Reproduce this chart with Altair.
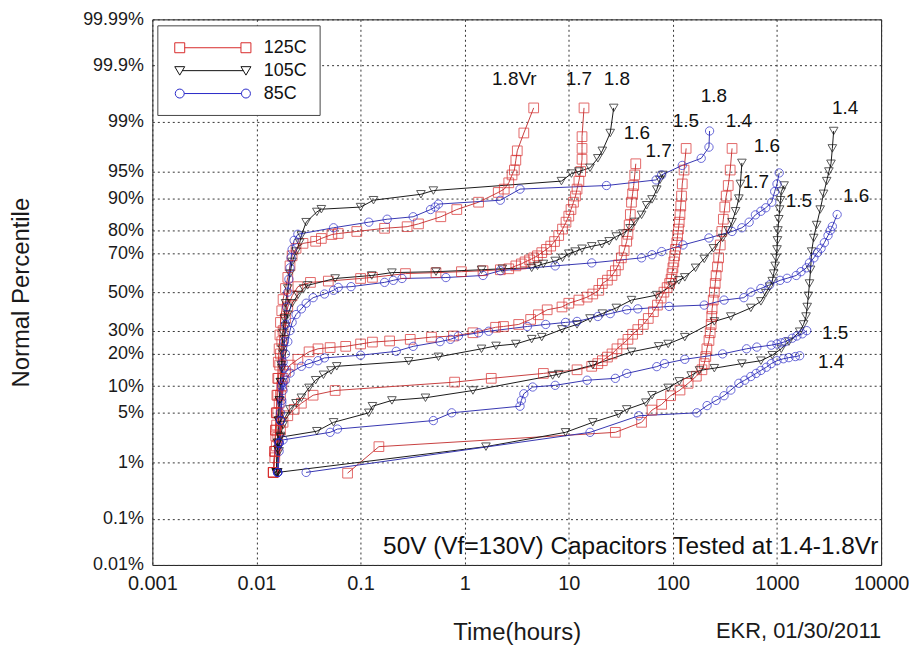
import altair as alt
import pandas as pd
from statistics import NormalDist

# ---------------- data (time in hours, percentile in %) ----------------
# 125C (red squares)
R18_T = [0.0145, 0.015, 0.0152, 0.0155, 0.0157, 0.016, 0.0162, 0.0165, 0.0168, 0.017, 0.0175, 0.018, 0.019, 0.02, 0.021, 0.022, 0.024, 0.028, 0.037, 0.042, 0.053, 0.061, 0.092, 0.17, 0.28, 0.36, 0.59, 0.84, 1.36, 2.1, 2.4, 2.65, 2.85, 3.0, 3.1, 3.2, 3.7, 4.6]
R18_P = [0.7, 1.5, 3, 5, 8, 12, 17, 22, 28, 34, 40, 46, 52, 58, 64, 69, 72.5, 74.7, 75.6, 76.8, 78.4, 78.8, 79.6, 80.8, 81.4, 82.4, 84.8, 87, 89, 91.3, 92, 93.2, 94.5, 95.2, 96.4, 97.3, 98.5, 99.4]
R17_T = [0.0145, 0.015, 0.0153, 0.0156, 0.016, 0.0163, 0.0167, 0.017, 0.0175, 0.018, 0.019, 0.02, 0.022, 0.025, 0.033, 0.049, 0.1, 0.13, 0.27, 0.53, 0.93, 1.5, 2.2, 2.65, 3.1, 3.5, 3.8, 4.2, 4.6, 5.0, 5.5, 6.1, 6.7, 7.3, 8.0, 8.7, 9.4, 10.0, 10.5, 11.1, 11.6, 12.0, 12.5, 13.0, 13.4, 13.4, 13.4, 14.0]
R17_P = [0.7, 1.5, 3, 5, 8, 12, 16, 20, 25, 30, 36, 42, 48, 53, 55.3, 56, 57.4, 58, 60, 60.5, 61, 61.5, 62, 62.5, 64, 65, 66, 67, 68, 69, 70.5, 72, 73.5, 75.5, 78, 80.5, 83, 85, 87, 89, 90.5, 92, 93.5, 95, 96.5, 97.5, 98.3, 99.4]
R16_T = [0.0145, 0.015, 0.0153, 0.0156, 0.016, 0.0165, 0.017, 0.0175, 0.018, 0.019, 0.021, 0.025, 0.032, 0.039, 0.051, 0.072, 0.1, 0.13, 0.19, 0.3, 0.48, 0.78, 1.2, 1.98, 2.36, 3.3, 4.3, 5.1, 6.2, 8.6, 10, 12.5, 15, 17, 19.4, 21, 23.5, 26, 28, 30, 32, 34, 36, 37, 38, 39, 40, 41, 42, 43, 44]
R16_P = [0.7, 1.5, 2.5, 3.5, 5, 6.5, 8, 10, 12, 14, 16, 18, 20.8, 22, 22.5, 23, 24, 24.8, 25.3, 26, 27, 27.5, 29, 31.6, 32, 33, 35.5, 37.9, 40.5, 42, 44, 45.7, 47.3, 49, 51, 54.7, 56.5, 59, 61.5, 64.5, 68, 71.5, 75.6, 78.5, 82, 85.5, 89, 91, 92.7, 94.5, 96]
R15_T = [0.0145, 0.015, 0.0155, 0.016, 0.017, 0.018, 0.02, 0.023, 0.027, 0.035, 0.057, 0.8, 1.8, 5.7, 12, 16.6, 19, 21, 23.5, 26, 29, 33, 37, 41, 46, 52, 58, 65, 71, 77, 82, 88, 93, 96, 98, 100, 102, 104, 106, 109, 111, 113, 115, 117, 119, 121, 123, 128, 134]
R15_P = [0.7, 1.2, 1.8, 2.4, 3, 3.8, 4.6, 5.5, 6.5, 8, 9, 11, 12, 13.4, 14.5, 15.6, 16.5, 17.5, 18.8, 20, 22, 24, 26, 28.3, 30.5, 33, 36, 39.5, 43, 46.8, 50, 52.5, 54.7, 57, 60, 63, 66, 69, 72, 75, 78, 80.5, 83, 85.5, 88, 90.5, 93, 95.2, 97.5]
R14_T = [0.075, 0.15, 28, 50, 63, 78, 95, 117, 140, 168, 190, 200, 207, 212, 222, 228, 233, 236, 238, 244, 250, 255, 260, 268, 275, 285, 295, 305, 315, 325, 340, 355, 370]
R14_P = [0.68, 1.76, 2.8, 3.8, 5.4, 6.3, 7.9, 9.1, 10.7, 12.6, 14.5, 16.5, 19, 22, 25.5, 29, 33, 37, 41, 45.7, 50, 54.7, 59, 63.5, 68, 74, 79.6, 84, 87.7, 90.5, 92.7, 95.2, 97.5]

# 105C (black triangles)
K18_T = [0.0155, 0.016, 0.0163, 0.0166, 0.017, 0.0173, 0.0176, 0.018, 0.0185, 0.019, 0.02, 0.021, 0.022, 0.024, 0.026, 0.027, 0.03, 0.038, 0.042, 0.1, 0.133, 0.38, 0.5, 8.5, 10.6, 12.5, 16, 19, 21, 25, 27]
K18_P = [0.7, 2, 4, 7, 11, 16, 22, 29, 36, 44, 52, 60, 66, 71, 75, 78, 83, 86.3, 87.1, 87.7, 89.5, 90.9, 91.7, 93.5, 94.7, 95, 95.5, 96.6, 97.3, 98.5, 99.4]
K17_T = [0.0155, 0.016, 0.0163, 0.0166, 0.017, 0.0175, 0.018, 0.0185, 0.019, 0.02, 0.022, 0.025, 0.0284, 0.031, 0.057, 0.128, 0.2, 0.53, 1.45, 2.3, 4.4, 5.0, 5.7, 7.4, 8.7, 10, 11.5, 13.4, 16.6, 20.8, 24.4, 28.6, 33, 38.8, 43, 50, 56, 63, 70, 75, 80]
K17_P = [0.7, 2, 4, 7, 11, 15, 20, 26, 32, 38, 44, 48.5, 52, 53.7, 57.4, 59, 60.5, 61, 62, 62.5, 63, 64, 65, 66.5, 68, 70, 71, 72.3, 73.4, 74.3, 75.6, 77.6, 78.8, 80.8, 83.1, 85.4, 88.2, 89.7, 91.9, 93.7, 94.5]
K16_T = [0.016, 0.0165, 0.017, 0.018, 0.019, 0.021, 0.024, 0.027, 0.032, 0.037, 0.044, 0.052, 0.059, 0.29, 0.56, 1.45, 2.0, 3.1, 4.4, 5.5, 8.6, 12, 16, 21, 28.6, 40, 70, 98, 114, 130, 165, 200, 245, 300, 340, 370, 400, 430, 445, 460]
K16_P = [0.7, 1.5, 2.5, 3.5, 4.5, 5.5, 6.5, 7.5, 9.6, 11.5, 13, 14.3, 15.6, 17.3, 18.9, 22, 23.2, 24, 26.1, 27, 30.6, 33, 36, 38.5, 41.5, 45.7, 48.4, 53.7, 56.4, 58, 63, 67.5, 72.5, 77, 80, 83, 86.5, 89.9, 93, 96.1]
K15_T = [0.0155, 0.016, 0.017, 0.038, 0.055, 0.12, 0.13, 0.2, 0.42, 1.2, 7, 8, 17, 40, 73, 90, 130, 250, 360, 560, 700, 780, 850, 900, 930, 960, 980, 1000, 1010, 1020, 1040, 1060, 1080, 1100, 1170]
K15_P = [0.7, 1.6, 2.4, 2.9, 3.8, 5, 6, 7, 7.5, 9, 12.8, 13.2, 16, 20.8, 23, 24, 27, 34.5, 37, 41.5, 45, 49.5, 53, 56, 60, 64, 68, 72, 76, 80, 84, 87, 89.5, 91.5, 92.7]
K14_T = [0.016, 1.6, 9.3, 17, 30, 36, 55, 63, 90, 115, 150, 180, 250, 460, 700, 900, 1100, 1300, 1650, 1800, 1900, 1950, 2000, 2050, 2100, 2150, 2250, 2400, 2600, 2800, 3000, 3150, 3300, 3400, 3500]
K14_P = [0.7, 1.76, 2.8, 3.8, 4.8, 5.5, 6.6, 8, 9.6, 11.2, 12.8, 14.3, 15, 16.5, 17.5, 19.5, 22, 25, 29.5, 33, 37, 42, 48, 54.7, 62, 71, 77, 82, 87, 91, 93.5, 95, 96, 97.5, 98.6]

# 85C (blue circles)
B18_T = [0.016, 0.0165, 0.017, 0.0175, 0.018, 0.0185, 0.019, 0.0195, 0.02, 0.0205, 0.021, 0.0215, 0.022, 0.023, 0.025, 0.055, 0.12, 0.18, 0.32, 0.47, 0.52, 0.56, 2.2, 3.4, 23, 69, 78, 123, 187, 222, 225]
B18_P = [0.7, 2, 5, 10, 17, 25, 33, 42, 50, 57, 63, 68, 72, 76, 78.5, 81, 83, 84, 84.8, 87, 87.7, 88.5, 89.5, 92, 92.7, 93.7, 94.5, 95.8, 96.6, 97.6, 98.6]
B17_T = [0.016, 0.0165, 0.017, 0.0175, 0.018, 0.0185, 0.019, 0.02, 0.021, 0.022, 0.024, 0.027, 0.03, 0.035, 0.045, 0.055, 0.061, 0.081, 0.17, 0.206, 0.25, 0.66, 1.5, 2.2, 7.4, 16.6, 50, 63, 78, 125, 222, 370, 460, 540, 620, 700, 780, 890, 950, 1000, 1050]
B17_P = [0.7, 2, 4, 7, 11, 15, 20, 25, 30, 34, 38, 41, 44, 47, 49, 51, 52.6, 53, 55.3, 56.4, 57.4, 57.9, 59, 61.5, 64, 65.5, 68, 69.5, 71, 74, 77, 79.6, 81, 83, 85.4, 86.5, 87.5, 89, 91.5, 93, 94.8]
B16_T = [0.016, 0.0165, 0.017, 0.0175, 0.018, 0.019, 0.021, 0.027, 0.032, 0.039, 0.045, 0.1, 0.22, 0.32, 0.58, 0.73, 0.87, 1.36, 1.7, 4, 6, 9.3, 12, 19, 25, 36, 46, 92, 200, 310, 480, 560, 700, 850, 1070, 1250, 1530, 1700, 1920, 2050, 2260, 2450, 2650, 2850, 3090, 3250, 3400, 3780]
B16_P = [0.7, 2, 4, 6.5, 9, 11.5, 13.5, 15.6, 16.5, 17.5, 18.5, 19.5, 21, 23, 25, 26, 27.5, 29, 29.7, 32, 33, 34, 34.5, 37, 38.5, 40.5, 41, 42.3, 43, 45.7, 47, 50, 52, 54, 56.4, 57.5, 59, 61, 63, 65.5, 68, 70.5, 72.5, 75, 78, 80, 81.5, 85.5]
B15_T = [0.016, 0.0165, 0.018, 0.051, 0.06, 0.5, 0.75, 3.4, 3.5, 3.7, 4.5, 7.4, 15, 28, 36, 70, 83, 130, 300, 510, 640, 880, 1000, 1100, 1200, 1400, 1550, 1750, 1930]
B15_P = [0.7, 1.5, 2.2, 2.8, 3.1, 4, 5, 6, 7, 8.3, 9.8, 10.2, 11.5, 12, 13.4, 15.5, 16.5, 18, 20, 22, 22.7, 23.5, 24, 24.5, 25, 26.5, 27.5, 28.5, 30]
B14_T = [0.03, 16, 47, 170, 213, 260, 310, 360, 430, 490, 560, 630, 700, 790, 880, 1000, 1150, 1300, 1500, 1650]
B14_P = [0.7, 2.8, 4.6, 5, 6.1, 7, 7.9, 9.1, 10.7, 11.5, 12.5, 13.4, 14.3, 15.3, 16.5, 17.5, 18.2, 18.6, 19, 19.3]

# curve labels
LBL_TEXT = ["1.8Vr", "1.7", "1.8", "1.6", "1.7", "1.5", "1.8", "1.4", "1.6", "1.7", "1.5", "1.4", "1.6", "1.5", "1.4"]
LBL_T = [3.0, 12.5, 29, 45, 73, 133, 248, 431, 801, 628, 1623, 4510, 5750, 3610, 3310]
LBL_P = [99.82, 99.82, 99.82, 98.5, 97.3, 99.02, 99.62, 99.02, 97.7, 93.4, 89.4, 99.4, 90.6, 28.9, 17.1]

ANNOT_TEXT = ["50V (Vf=130V) Capacitors Tested at 1.4-1.8Vr"]
ANNOT_T = [9400]
ANNOT_P = [0.026]

TEMPS = ["125C", "105C", "85C"]
X_TICKS = [0.001, 0.01, 0.1, 1, 10, 100, 1000, 10000]
Y_TICKS = [0.01, 0.1, 1, 5, 10, 20, 30, 50, 70, 80, 90, 95, 99, 99.9, 99.99]
Y_LABELS = ["0.01%", "0.1%", "1%", "5%", "10%", "20%", "30%", "50%", "70%", "80%", "90%", "95%", "99%", "99.9%", "99.99%"]

# ---------------- styling ----------------
FONT = "Liberation Sans"
LINE_COLORS = ["#c84040", "#1a1a1a", "#3636b0"]
MARK_COLORS = ["#d82a2a", "#111111", "#2828c8"]
SHAPES = ["square", "triangle-down", "circle"]
SIZES = [95, 75, 70]
LEG_PATHS = [
    "M-0.5,-0.5h1v1h-1z M6.15,-0.5h1v1h-1z M0.5,0H6.15",
    "M-0.5,-0.4L0.5,-0.4L0,0.45z M6.15,-0.4L7.15,-0.4L6.65,0.45z M0.25,0H6.4",
    "M0.45,0A0.45,0.45 0 1 1 -0.45,0A0.45,0.45 0 1 1 0.45,0z M7.1,0A0.45,0.45 0 1 1 6.2,0A0.45,0.45 0 1 1 7.1,0z M0.45,0H6.2",
]

SERIES = [
    ("125C", "1.8", R18_T, R18_P), ("125C", "1.7", R17_T, R17_P), ("125C", "1.6", R16_T, R16_P),
    ("125C", "1.5", R15_T, R15_P), ("125C", "1.4", R14_T, R14_P),
    ("105C", "1.8", K18_T, K18_P), ("105C", "1.7", K17_T, K17_P), ("105C", "1.6", K16_T, K16_P),
    ("105C", "1.5", K15_T, K15_P), ("105C", "1.4", K14_T, K14_P),
    ("85C", "1.8", B18_T, B18_P), ("85C", "1.7", B17_T, B17_P), ("85C", "1.6", B16_T, B16_P),
    ("85C", "1.5", B15_T, B15_P), ("85C", "1.4", B14_T, B14_P),
]

rows = []
for temp, volt, ts, ps in SERIES:
    for i, (t, p) in enumerate(zip(ts, ps)):
        rows.append({"temp": temp, "sid": temp + "-" + volt, "idx": i, "t": t, "p": p})
df = pd.DataFrame(rows)
lbl_df = pd.DataFrame({"text": LBL_TEXT, "t": LBL_T, "p": LBL_P})
ann_df = pd.DataFrame({"text": ANNOT_TEXT, "t": ANNOT_T, "p": ANNOT_P})
leg_df = pd.DataFrame({"temp": TEMPS, "t": [1, 1, 1], "p": [50, 50, 50]})

nd = NormalDist()
y_vals = [nd.inv_cdf(v / 100.0) for v in Y_TICKS]
y_dom = [y_vals[0], y_vals[-1]]
label_expr = "".join(
    "datum.value < %.5f ? '%s' : " % ((y_vals[i] + y_vals[i + 1]) / 2, Y_LABELS[i])
    for i in range(len(y_vals) - 1)
) + "'%s'" % Y_LABELS[-1]

ZCALC = "quantileNormal(datum.p / 100)"

x_enc = alt.X(
    "t:Q",
    scale=alt.Scale(type="log", domain=[0.001, 10000], nice=False),
    axis=alt.Axis(values=X_TICKS, format="~g", title="Time(hours)", labelFlush=False,
                  labelPadding=9, labelFontSize=20, titleY=68, titleBaseline="middle",
                  titleFontSize=24),
)
y_enc = alt.Y(
    "z:Q",
    scale=alt.Scale(domain=y_dom, nice=False, zero=False),
    axis=alt.Axis(values=y_vals, labelExpr=label_expr, title="Normal Percentile",
                  labelFlush=False, labelOverlap=False, labelPadding=9, labelFontSize=18,
                  titleX=-131, titleBaseline="middle", titleFontSize=24),
)

base = alt.Chart(df).transform_calculate(z=ZCALC)

line_layers = []
point_layers = []
for temp, shape, size, lcol, mcol in zip(TEMPS, SHAPES, SIZES, LINE_COLORS, MARK_COLORS):
    sub = base.transform_filter(alt.datum.temp == temp)
    line_layers.append(
        sub.mark_line(strokeWidth=1, color=lcol).encode(
            x=x_enc, y=y_enc, detail="sid:N", order="idx:Q")
    )
    point_layers.append(
        sub.mark_point(shape=shape, filled=False, size=size, strokeWidth=1, color=mcol)
        .encode(x=x_enc, y=y_enc)
    )

labels = alt.Chart(lbl_df).transform_calculate(z=ZCALC).mark_text(
    font=FONT, fontSize=19, color="#111111", align="center", baseline="middle"
).encode(x=x_enc, y=y_enc, text="text:N")

annot = alt.Chart(ann_df).transform_calculate(z=ZCALC).mark_text(
    font=FONT, fontSize=24.5, color="#111111", align="right", baseline="middle"
).encode(x=x_enc, y=y_enc, text="text:N")

leg = alt.Legend(
    title=None, orient="none", direction="vertical", legendX=5, legendY=6, padding=12,
    fillColor="white", strokeColor="#444444", labelFont=FONT, labelFontSize=18,
    labelColor="#111111", symbolSize=400, symbolStrokeWidth=1, labelOffset=74, rowPadding=3,
    symbolOpacity=1,
)
# invisible layer that only carries the legend (marks have opacity 0)
legend_layer = alt.Chart(leg_df).transform_calculate(z=ZCALC).mark_point(
    filled=False, strokeWidth=1, opacity=0
).encode(
    x=x_enc, y=y_enc,
    shape=alt.Shape("temp:N", scale=alt.Scale(domain=TEMPS, range=LEG_PATHS), legend=leg),
    stroke=alt.Stroke("temp:N", scale=alt.Scale(domain=TEMPS, range=MARK_COLORS), legend=leg),
)

chart = alt.layer(*line_layers, *point_layers, labels, annot, legend_layer).properties(
    width=732,
    height=548,
    autosize=alt.AutoSizeParams(type="none"),
    padding={"left": 145, "top": 10, "right": 28, "bottom": 84},
    title=alt.TitleParams(text="EKR, 01/30/2011", orient="bottom", anchor="end", frame="group",
                          fontSize=22, fontWeight="normal", font=FONT, color="#1a1a1a", offset=-24),
).configure_view(
    stroke="#1a1a1a", strokeWidth=1
).configure_axis(
    grid=True, gridColor="#333333", gridDash=[2, 3], gridWidth=1, gridOpacity=1,
    domain=False, ticks=False, labelFont=FONT, titleFont=FONT,
    labelColor="#1a1a1a", titleColor="#1a1a1a", titleFontWeight="normal",
)

chart.save("out.html", embed_options={"renderer": "svg", "actions": False})
